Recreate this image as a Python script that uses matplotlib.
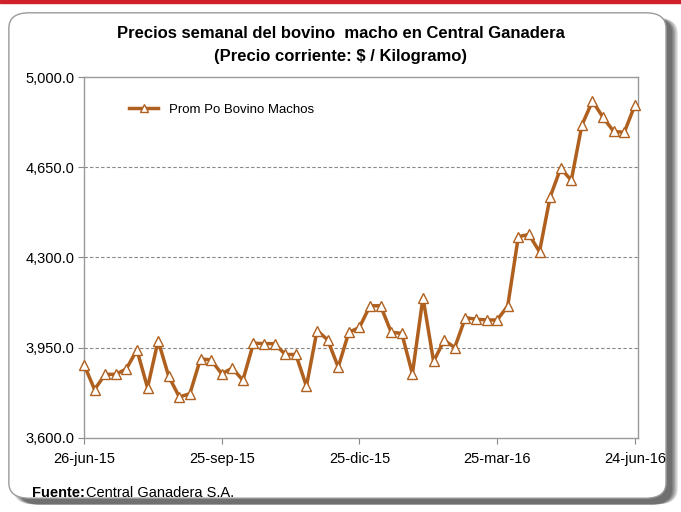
import matplotlib.pyplot as plt
from matplotlib.patches import FancyBboxPatch, Rectangle
from matplotlib.lines import Line2D

BROWN = "#B0601E"

week_labels = ["26-jun-15", "25-sep-15", "25-dic-15", "25-mar-16", "24-jun-16"]
week_ticks = [0, 13, 26, 39, 52]

prices = [
    3884, 3787, 3846, 3846, 3867, 3941, 3794, 3977, 3838, 3758,
    3771, 3906, 3902, 3848, 3870, 3823, 3967, 3965, 3965, 3923,
    3923, 3800, 4016, 3980, 3874, 4009, 4028, 4112, 4112, 4009,
    4005, 3848, 4144, 3896, 3978, 3950, 4066, 4060, 4057, 4057,
    4111, 4380, 4389, 4322, 4534, 4646, 4599, 4813, 4907, 4843,
    4789, 4785, 4890,
]
y_ticks = [3600, 3950, 4300, 4650, 5000]

plt.rcParams["font.family"] = ["Liberation Sans Narrow", "Liberation Sans", "DejaVu Sans"]

fig = plt.figure(figsize=(6.81, 5.12), dpi=100)

# frame with shadow and red top line
fig.patches.append(Rectangle((0, 0.994), 1, 0.006, transform=fig.transFigure,
                             color="#D0202A", zorder=0))
shade = ["#d8d8d8", "#bdbdbd", "#a0a0a0", "#858585", "#707070"]
for i, c in enumerate(shade):
    fig.patches.append(FancyBboxPatch((0.02 + 0.002 * i, 0.015), 0.975 - 0.004 * i, 0.95,
                                      boxstyle="round,pad=0,rounding_size=0.03",
                                      transform=fig.transFigure, facecolor=c,
                                      edgecolor="none", zorder=0))
fig.patches.append(FancyBboxPatch((0.013, 0.027), 0.965, 0.948,
                                  boxstyle="round,pad=0,rounding_size=0.03",
                                  transform=fig.transFigure, facecolor="white",
                                  edgecolor="#9a9a9a", linewidth=1.0, zorder=0))

ax = fig.add_axes([0.1233, 0.1451, 0.8136, 0.7045])
ax.set_zorder(2)
ax.patch.set_alpha(0)
x = list(range(len(prices)))
ax.plot(x, prices, color=BROWN, linewidth=2.5, marker="^", markersize=6.5,
        markerfacecolor="white", markeredgecolor=BROWN, markeredgewidth=1.0,
        clip_on=False, zorder=3)

ax.set_xlim(0, 52.3)
ax.set_ylim(3600, 5000)
ax.set_yticks(y_ticks)
ax.set_yticklabels([f"{v:,.1f}" for v in y_ticks], fontsize=10.5)
ax.set_xticks(week_ticks)
ax.set_xticklabels(week_labels, fontsize=10.5)
ax.tick_params(axis="both", direction="out", length=4, color="#888888", pad=3)
ax.tick_params(axis="x", pad=6)

for v in y_ticks[1:-1]:
    ax.axhline(v, color="#888888", linestyle=(0, (3, 2)), linewidth=0.8, zorder=0)

for side in ["left", "bottom", "right", "top"]:
    ax.spines[side].set_color("#999999")
    ax.spines[side].set_linewidth(1.0)

handle = Line2D([], [], color=BROWN, linewidth=2.5, marker="^", markersize=6,
                markerfacecolor="white", markeredgecolor=BROWN)
ax.legend([handle], ["Prom Po Bovino Machos"], loc="upper left",
          bbox_to_anchor=(0.06, 0.96), frameon=False, fontsize=9.5,
          handlelength=2.2)

fig.text(0.5, 0.935, "Precios semanal del bovino  macho en Central Ganadera",
         ha="center", va="center", fontsize=12, fontweight="bold")
fig.text(0.5, 0.89, "(Precio corriente: $ / Kilogramo)",
         ha="center", va="center", fontsize=12, fontweight="bold")

fig.text(0.047, 0.038, "Fuente:", ha="left", va="center", fontsize=10.5,
         fontweight="bold")
fig.text(0.127, 0.038, "Central Ganadera S.A.", ha="left", va="center", fontsize=10.5)

fig.savefig("out.png", dpi=100)
